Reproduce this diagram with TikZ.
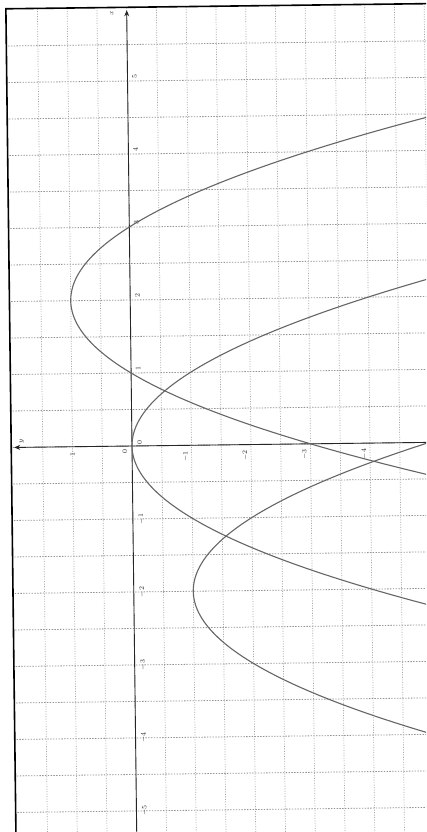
\documentclass[tikz,border=0pt]{standalone}
\usetikzlibrary{arrows.meta}
\begin{document}
\begin{tikzpicture}[x=1pt,y=1pt]
\useasboundingbox (0,0) rectangle (426,-832);
\fill[white] (0,0) rectangle (426,-832);
\clip (0,0) rectangle (426,-832);
\begin{scope}[shift={(132pt,-446pt)}, rotate=0.7, x={(0pt,73pt)}, y={(-59.5pt,0pt)},
  gridh/.style={gray!85, line width=0.8pt, dash pattern=on 1.4pt off 1.4pt},
  gridv/.style={gray!70, line width=0.7pt, dash pattern=on 1pt off 1.5pt},
  curvln/.style={black!60, line width=1.1pt},
  axisline/.style={black!85, line width=0.9pt},
  lbl/.style={rotate=90, font=\fontsize{7}{8}\selectfont, inner sep=0pt, text=black!85}]
  % grid
  \foreach \v in {-5.5,-5,...,5.5} \draw[gridh] (\v,-5.6) -- (\v,2.03);
  \foreach \u in {-5,-4.5,...,1.5} \draw[gridv] (-6.2,\u) -- (6.01,\u);
  % frame
  \draw[black, line width=1.6pt] (-6.2,2.03) -- (6.01,2.03) -- (6.01,-5.6);
  % axes
  \coordinate (xs) at (-6.2,0);
  \coordinate (xe) at (5.97,0);
  \coordinate (ys) at (0,-5.6);
  \coordinate (ye) at (0,1.98);
  \draw[axisline,-{Stealth[length=6pt,width=5pt]}] (xs) -- (xe);
  \draw[axisline,-{Stealth[length=6pt,width=5pt]}] (ys) -- (ye);
  % curves
  \draw[curvln, domain=-0.6:4.6, samples=120, smooth] plot (\x,{1-(\x-2)*(\x-2)});
  \draw[curvln, domain=-2.45:2.45, samples=120, smooth] plot (\x,{-1*(\x)*(\x)});
  \draw[curvln, domain=-4.3:0.3, samples=120, smooth] plot (\x,{-1-(\x+2)*(\x+2)});
  % labels
  \node[lbl] (lx) at (5.93,0.25) {$x$};
  \node[lbl] (ly) at (0.08,1.85) {$y$};
  \node[lbl] (o1) at (-0.08,0.12) {0};
  \node[lbl] (o2) at (0.05,-0.13) {0};
  \foreach \n in {1,...,5} \node[lbl] (px\n) at (\n+0.06,-0.12) {$\n$};
  \foreach \n [count=\i] in {-1,-2,-3,-4,-5} \node[lbl] (nx\i) at (\n,-0.14) {$\n$};
  \node[lbl] (py1) at (-0.1,1) {$1$};
  \foreach \n [count=\i] in {-1,-2,-3,-4} \node[lbl] (ny\i) at (-0.15,\n+0.1) {$\n$};
\end{scope}
\end{tikzpicture}
\end{document}
